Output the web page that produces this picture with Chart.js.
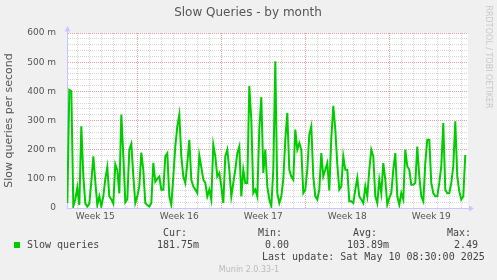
<!DOCTYPE html>
<html>
<head>
<meta charset="utf-8">
<title>Slow Queries - by month</title>
<script src="https://cdn.jsdelivr.net/npm/chart.js@4.4.1/dist/chart.umd.min.js"></script>
<style>
  html, body { margin: 0; padding: 0; background: #f0f0f0; }
  canvas { display: block; }
</style>
</head>
<body>
<canvas id="chart" width="497" height="280"></canvas>
<script>
// 4-hourly samples in milli-queries per second, first one Apr 7 04:00
const slowQueries = [
    17, 405, 400, 6, 30, 70, 10, 280, 110, 15, 5, 15, 90, 177, 90, 10, 40, 5, 40, 100,
    140, 40, 30, 15, 150, 130, 50, 320, 180, 20, 30, 200, 220, 110, 17, 40, 75, 190, 130, 17,
    10, 5, 17, 155, 90, 100, 108, 63, 63, 177, 188, 40, 11, 108, 211, 280, 320, 177, 108, 86,
    154, 234, 97, 74, 63, 51, 180, 140, 97, 86, 40, 63, 29, 217, 177, 108, 120, 74, 17, 177,
    200, 131, 40, 86, 131, 188, 211, 40, 131, 86, 86, 418, 303, 51, 63, 40, 270, 380, 120, 200,
    74, 29, 6, 131, 503, 51, 17, 40, 97, 234, 326, 131, 108, 97, 269, 200, 223, 200, 51, 63,
    131, 251, 280, 108, 40, 29, 63, 188, 108, 131, 154, 60, 240, 350, 270, 150, 63, 74, 177, 131,
    131, 23, 23, 17, 63, 103, 40, 29, 17, 74, 40, 131, 200, 177, 40, 17, 97, 51, 154, 97,
    11, 34, 51, 131, 188, 40, 11, 51, 29, 200, 143, 131, 80, 80, 86, 211, 108, 40, 23, 154,
    234, 234, 86, 51, 40, 40, 86, 143, 291, 63, 51, 51, 86, 143, 297, 108, 57, 29, 40, 181.75
];
const firstSampleDay = 1 + 4 / 24;   // days after Sun Apr 6 00:00
const sampleStepDays = 4 / 24;

const weekLabels = ["Week 15", "Week 16", "Week 17", "Week 18", "Week 19"];
const weekCenters = [3.5, 10.5, 17.5, 24.5, 31.5];

const yLabelTicks = [0, 100, 200, 300, 400, 500, 600];
const yTickLabels = ["0", "100 m", "200 m", "300 m", "400 m", "500 m", "600 m"];

const statHeaders = ["Cur:", "Min:", "Avg:", "Max:"];
const statValues = ["181.75m", "0.00", "103.89m", "2.49"];

const lineColor = "#00cc00";
const axisColor = "#c8c8ff";
const minorGrid = "#d6d6d6";
const majorGrid = "#e8a0a0";
const textColor = "#555";

const points = slowQueries.map((v, i) => ({ x: firstSampleDay + i * sampleStepDays, y: v }));

const muninDecor = {
    id: "muninDecor",
    beforeDraw(chart) {
        const { ctx, chartArea: a } = chart;
        ctx.save();
        ctx.fillStyle = "#f0f0f0";
        ctx.fillRect(0, 0, chart.width, chart.height);
        ctx.fillStyle = "#ffffff";
        ctx.fillRect(a.left, a.top, a.right - a.left, a.bottom - a.top);
        ctx.restore();
    },
    afterDraw(chart) {
        const { ctx, chartArea: a } = chart;
        ctx.save();

        // title
        ctx.fillStyle = textColor;
        ctx.font = "12px 'DejaVu Sans'";
        ctx.textAlign = "center";
        ctx.textBaseline = "middle";
        ctx.fillText("Slow Queries - by month", 248, 13);

        // axis arrows
        ctx.fillStyle = axisColor;
        ctx.strokeStyle = axisColor;
        ctx.lineWidth = 1;
        ctx.beginPath();
        ctx.moveTo(a.left + 0.5, a.top);
        ctx.lineTo(a.left + 0.5, 29);
        ctx.moveTo(a.right, a.bottom + 0.5);
        ctx.lineTo(470, a.bottom + 0.5);
        ctx.stroke();
        ctx.beginPath();
        ctx.moveTo(a.left - 2.5, 31.5);
        ctx.lineTo(a.left + 3.5, 31.5);
        ctx.lineTo(a.left + 0.5, 26);
        ctx.closePath();
        ctx.fill();
        ctx.beginPath();
        ctx.moveTo(469, a.bottom - 2.5);
        ctx.lineTo(469, a.bottom + 3.5);
        ctx.lineTo(474, a.bottom + 0.5);
        ctx.closePath();
        ctx.fill();

        // rrdtool credit
        ctx.save();
        ctx.translate(488.5, 57);
        ctx.rotate(Math.PI / 2);
        ctx.fillStyle = "#c8c8c8";
        ctx.font = "8px 'DejaVu Sans'";
        ctx.textAlign = "center";
        ctx.textBaseline = "middle";
        ctx.fillText("RRDTOOL / TOBI OETIKER", 0, 0);
        ctx.restore();

        // legend and stats
        ctx.font = "10px 'DejaVu Sans Mono'";
        ctx.textAlign = "left";
        ctx.textBaseline = "middle";
        ctx.fillStyle = "#444";
        const statX = [163, 258, 353, 447];
        const valX = [157, 265, 347, 454];
        statHeaders.forEach((h, i) => ctx.fillText(h, statX[i], 233.5));
        statValues.forEach((v, i) => ctx.fillText(v, valX[i], 245.5));
        ctx.fillText("Slow queries", 27, 245.5);
        ctx.fillText("Last update: Sat May 10 08:30:00 2025", 262, 257.5);
        ctx.fillStyle = lineColor;
        ctx.fillRect(14, 242, 6, 6);

        ctx.fillStyle = "#bbb";
        ctx.font = "8px 'DejaVu Sans'";
        ctx.textAlign = "center";
        ctx.fillText("Munin 2.0.33-1", 249, 269.5);

        ctx.restore();
    }
};

new Chart(document.getElementById("chart"), {
    type: "line",
    data: {
        datasets: [{
            label: "Slow queries",
            data: points,
            borderColor: lineColor,
            borderWidth: 2,
            pointRadius: 0,
            tension: 0,
            fill: false
        }]
    },
    options: {
        responsive: false,
        animation: false,
        layout: { padding: { left: 0, right: 29, top: 33, bottom: 0 } },
        plugins: {
            legend: { display: false },
            tooltip: { enabled: false }
        },
        scales: {
            x: {
                type: "linear",
                min: 1.14,
                max: 34.56,
                afterFit: s => { s.height = 72; },
                afterBuildTicks: s => {
                    const ticks = [];
                    for (let v = 1.5; v <= 34.5; v += 0.5) ticks.push({ value: v });
                    s.ticks = ticks;
                },
                ticks: {
                    autoSkip: false,
                    maxRotation: 0,
                    padding: 3,
                    color: textColor,
                    font: { family: "DejaVu Sans", size: 9 },
                    callback: v => {
                        const i = weekCenters.indexOf(v);
                        return i >= 0 ? weekLabels[i] : "";
                    }
                },
                grid: {
                    drawTicks: false,
                    color: c => {
                        const v = c.tick ? c.tick.value : 0;
                        if (v % 1 !== 0) return "rgba(0,0,0,0)";
                        return v % 7 === 0 ? majorGrid : minorGrid;
                    }
                },
                border: { color: axisColor, dash: [1, 1] }
            },
            y: {
                min: 0,
                max: 600,
                afterFit: s => { s.width = 67; },
                afterBuildTicks: s => {
                    const ticks = [];
                    for (let v = 0; v <= 600; v += 20) ticks.push({ value: v });
                    s.ticks = ticks;
                },
                ticks: {
                    autoSkip: false,
                    padding: 11,
                    color: textColor,
                    font: { family: "DejaVu Sans", size: 9 },
                    callback: v => {
                        const i = yLabelTicks.indexOf(v);
                        return i >= 0 ? yTickLabels[i] : "";
                    }
                },
                grid: {
                    drawTicks: false,
                    color: c => {
                        const v = c.tick ? c.tick.value : 0;
                        if (v === 0) return "rgba(0,0,0,0)";
                        return v % 100 === 0 ? majorGrid : minorGrid;
                    }
                },
                border: { color: axisColor, dash: [1, 1] },
                title: {
                    display: true,
                    text: "Slow queries per second",
                    color: textColor,
                    font: { family: "DejaVu Sans", size: 11 },
                    padding: { top: 3, bottom: 0 }
                }
            }
        }
    },
    plugins: [muninDecor]
});
</script>
</body>
</html>
